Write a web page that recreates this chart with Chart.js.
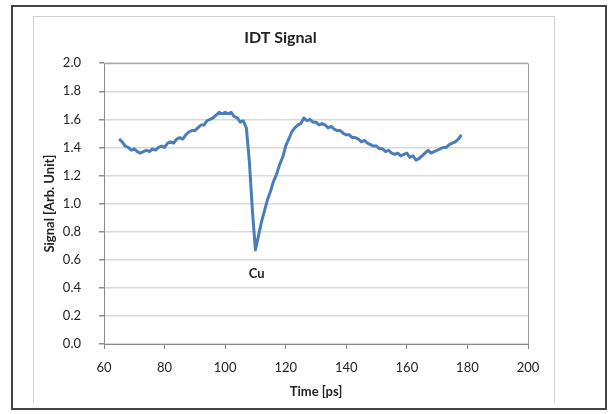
<!DOCTYPE html>
<html>
<head>
<meta charset="utf-8">
<script src="https://cdn.jsdelivr.net/npm/chart.js@4/dist/chart.umd.min.js"></script>
<style>
  html,body{margin:0;padding:0;background:#fff;}
  body{width:612px;height:414px;position:relative;overflow:hidden;}
  .frame{position:absolute;left:11px;top:5px;width:596px;height:405px;border:2px solid #444;box-sizing:border-box;}
  .box{position:absolute;left:33px;top:16px;width:522px;height:387px;border:1px solid #d0d0d0;border-bottom:none;box-sizing:border-box;}
  #wrap{position:absolute;left:33px;top:17px;width:520px;height:385px;}
</style>
</head>
<body>
<div class="frame"></div>
<div class="box"></div>
<div id="wrap"><canvas id="chart" width="520" height="385"></canvas></div>
<script>
/* data */
const times = [65,66,67,68,69,70,71,72,73,74,75,76,77,78,79,80,81,82,83,84,85,86,87,88,89,90,
  91,92,93,94,95,96,97,98,99,100,101,102,103,104,105,106,107,108,109,110,111,112,113,114,115,116,
  117,118,119,120,121,122,123,124,125,126,127,128,129,130,131,132,133,134,135,136,137,138,139,140,
  141,142,143,144,145,146,147,148,149,150,151,152,153,154,155,156,157,158,159,160,161,162,163,164,
  165,166,167,168,169,170,171,172,173,174,175,176,177,178];
const signal = [1.46,1.44,1.41,1.40,1.38,1.39,1.37,1.36,1.37,1.38,1.37,1.39,1.38,1.40,1.41,1.40,
  1.43,1.44,1.43,1.46,1.47,1.46,1.49,1.51,1.52,1.52,1.54,1.56,1.56,1.59,1.60,1.61,1.63,1.65,1.64,
  1.65,1.64,1.65,1.62,1.61,1.58,1.59,1.54,1.30,0.95,0.67,0.77,0.87,0.95,1.03,1.09,1.16,1.21,1.28,
  1.33,1.41,1.46,1.51,1.54,1.56,1.57,1.61,1.59,1.60,1.58,1.58,1.56,1.57,1.56,1.54,1.55,1.53,1.52,
  1.52,1.50,1.49,1.49,1.47,1.47,1.46,1.44,1.45,1.43,1.42,1.41,1.41,1.39,1.39,1.37,1.38,1.36,1.35,
  1.36,1.34,1.35,1.36,1.33,1.34,1.31,1.32,1.34,1.36,1.38,1.36,1.37,1.38,1.39,1.40,1.40,1.42,1.43,
  1.44,1.46,1.49];

const xTicks = [60,80,100,120,140,160,180,200];
const yTicks = [0,0.2,0.4,0.6,0.8,1.0,1.2,1.4,1.6,1.8,2.0];

// label under the dip
const noteText = 'Cu';
const noteAt = [110.4, 0.50];

const FONT = 'Lato, "Open Sans", sans-serif';

/* plot frame + annotation */
const extras = {
  id:'extras',
  afterDraw(chart){
    const {ctx, chartArea:a, scales:{x,y}} = chart;
    ctx.save();
    ctx.strokeStyle = '#9a9a9a';
    ctx.lineWidth = 1;
    ctx.beginPath();
    ctx.moveTo(a.left, a.top+0.5); ctx.lineTo(a.right+0.5, a.top+0.5); ctx.lineTo(a.right+0.5, a.bottom);
    ctx.stroke();
    ctx.fillStyle = '#222';
    ctx.font = 'bold 13px ' + FONT;
    ctx.textAlign = 'center';
    ctx.textBaseline = 'middle';
    ctx.fillText(noteText, x.getPixelForValue(noteAt[0]), y.getPixelForValue(noteAt[1]));
    ctx.restore();
  }
};

const pts = times.map((t,i)=>({x:t, y:signal[i]}));

new Chart(document.getElementById('chart'), {
  type:'line',
  data:{ datasets:[{ data:pts, borderColor:'#4a7ebb', borderWidth:3, pointRadius:0, tension:0, fill:false, borderJoinStyle:'round' }]},
  options:{
    responsive:false, animation:false,
    layout:{padding:{left:0,right:25,top:0,bottom:0}},
    plugins:{
      legend:{display:false}, tooltip:{enabled:false},
      title:{display:true, text:'IDT Signal', color:'#222', font:{family:FONT, size:16, weight:'bold'}, padding:{top:11,bottom:16}}
    },
    scales:{
      x:{
        type:'linear', min:60, max:200,
        afterBuildTicks: s=>{ s.ticks = xTicks.map(v=>({value:v})); },
        afterFit: s=>{ s.height = 58; },
        ticks:{color:'#222', font:{family:FONT, size:13}, padding:11, maxRotation:0},
        grid:{drawOnChartArea:false, drawTicks:true, tickLength:5, tickColor:'#8a8a8a'},
        border:{display:true, color:'#8a8a8a', width:1},
        title:{display:true, text:'Time [ps]', color:'#222', font:{family:FONT, size:13, weight:'bold'}, padding:{top:0,bottom:2}}
      },
      y:{
        type:'linear', min:0, max:2,
        afterBuildTicks: s=>{ s.ticks = yTicks.map(v=>({value:v})); },
        afterFit: s=>{ s.width = 71; },
        ticks:{color:'#222', font:{family:FONT, size:13}, padding:18, callback:v=>v.toFixed(1)},
        grid:{color:'#d9d9d9', lineWidth:1.5, drawTicks:true, tickLength:5, tickColor:'#8a8a8a'},
        border:{display:true, color:'#8a8a8a', width:1},
        title:{display:true, text:'Signal [Arb. Unit]', color:'#222', font:{family:FONT, size:13, weight:'bold'}, padding:{top:9,bottom:0}}
      }
    }
  },
  plugins:[extras]
});
</script>
</body>
</html>
